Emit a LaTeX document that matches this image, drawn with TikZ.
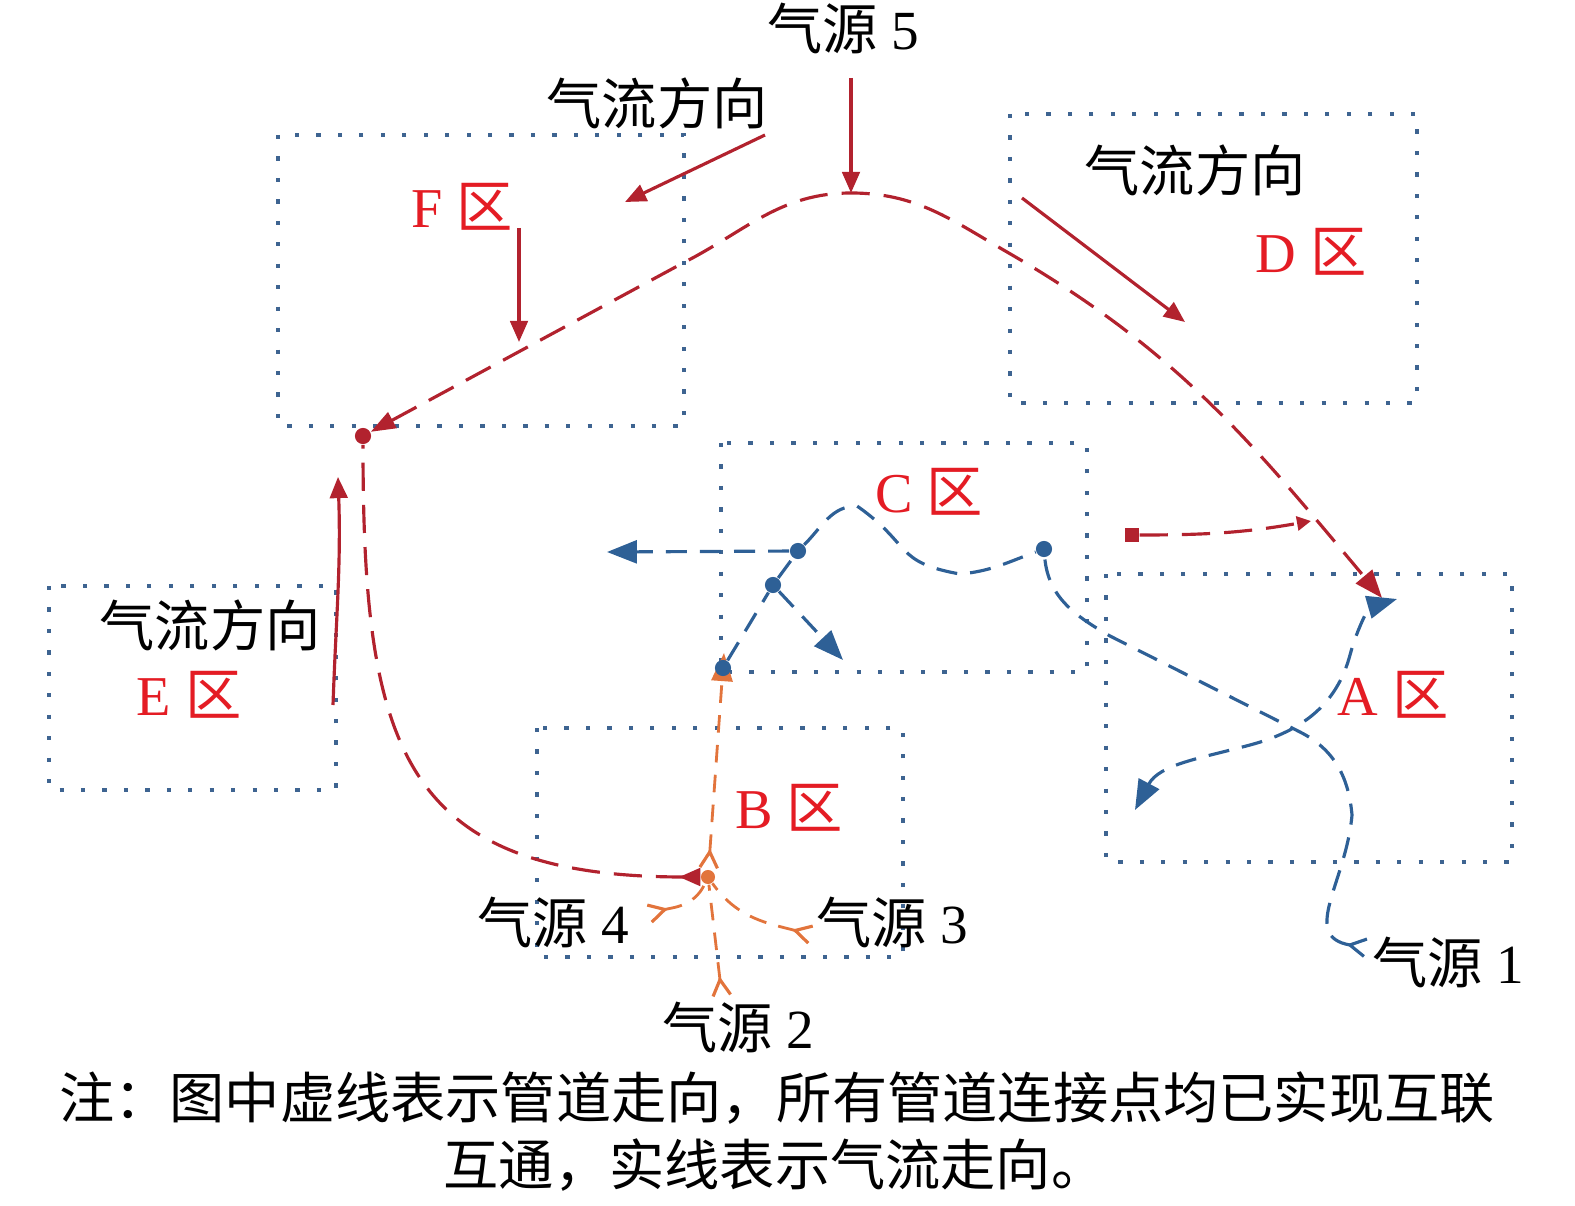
\documentclass[tikz,border=0pt]{standalone}
\usepackage{fontspec}
\setmainfont{Liberation Serif}
\newfontfamily\cjk{Noto Sans CJK SC}
\usetikzlibrary{arrows.meta}
\definecolor{zonec}{RGB}{62,100,145}
\definecolor{pipeblue}{RGB}{46,96,150}
\definecolor{pipered}{RGB}{178,34,46}
\definecolor{labelred}{RGB}{228,28,36}
\definecolor{pipeorange}{RGB}{226,116,60}

\begin{document}
\begin{tikzpicture}
			[x=0.01cm, y=0.01cm,
			 zone/.style={draw=zonec, line width=1.2pt, dash pattern=on 1.2pt off 4.9pt},
			 txt/.style={font=\fontsize{15.7}{18}\selectfont, inner sep=0pt},
			 zlabel/.style={font=\fontsize{16}{19}\selectfont, text=labelred, inner sep=0pt},
			 flow/.style={draw=pipered, line width=0.9pt, -{Triangle[length=6pt,width=5pt]}},
			 redpipe/.style={draw=pipered, line width=0.9pt, dash pattern=on 8pt off 4pt},
			 bluepipe/.style={draw=pipeblue, line width=0.9pt, dash pattern=on 6pt off 3.7pt},
			 orangepipe/.style={draw=pipeorange, line width=0.8pt, dash pattern=on 5pt off 3.5pt},
			 joint/.style={circle, inner sep=0pt, minimum size=4.6pt},
			 redtip/.tip={Triangle[length=7pt,width=5pt]},
			 bluetip/.tip={Triangle[length=8.5pt,width=6.5pt]},
			 feather/.tip={Straight Barb[reversed,length=4.5pt,width=5pt,line width=0.9pt]},]
			\useasboundingbox (0,0) rectangle (1575,1205);

			% zones
			\draw[zone] (278,1070) rectangle (684,779);
			\draw[zone] (1010,1091) rectangle (1417,802);
			\draw[zone] (721,762) rectangle (1087,533);
			\draw[zone] (1106,631) rectangle (1512,343);
			\draw[zone] (49,619) rectangle (336,415);
			\draw[zone] (537,477) rectangle (903,248);

			% texts
			\node[txt] (src5) at (843,1177) {{\cjk 气源}~5};
			\node[txt] (flowF) at (657,1102) {\cjk 气流方向};
			\node[txt] (flowD) at (1195,1035) {\cjk 气流方向};
			\node[txt] (flowE) at (210,580) {\cjk 气流方向};
			\node[txt] (src4) at (553,283) {{\cjk 气源}~4};
			\node[txt] (src3) at (892,283) {{\cjk 气源}~3};
			\node[txt] (src2) at (738,178) {{\cjk 气源}~2};
			\node[txt] (src1) at (1448,243) {{\cjk 气源}~1};
			\node[txt] (note1) at (777,107) {\cjk 注：图中虚线表示管道走向，所有管道连接点均已实现互联};
			\node[txt] (note2) at (775,40) {\cjk 互通，实线表示气流走向。};
			\node[zlabel] (zoneF) at (462,998) {F~{\cjk 区}};
			\node[zlabel] (zoneD) at (1311,953) {D~{\cjk 区}};
			\node[zlabel] (zoneC) at (929,713) {C~{\cjk 区}};
			\node[zlabel] (zoneA) at (1393,510) {A~{\cjk 区}};
			\node[zlabel] (zoneE) at (189,510) {E~{\cjk 区}};
			\node[zlabel] (zoneB) at (789,397) {B~{\cjk 区}};

			% points on the pipes
			\coordinate (p5) at (851,1012);
			\coordinate (q1) at (683,942);
			\coordinate (d1) at (1007,953);
			\coordinate (aTip) at (1382,607);
			\coordinate (sqEnd) at (1311,684);
			\coordinate (cT) at (857,699);
			\coordinate (cB) at (960,631);
			\coordinate (cL) at (607,653);
			\coordinate (cR) at (843,545);
			\coordinate (s1) at (1367,257);
			\coordinate (m1) at (1352,390);
			\coordinate (x1) at (1300,473);
			\coordinate (g1) at (1110,569);
			\coordinate (aL) at (1135,395);
			\coordinate (aX) at (1250,460);
			\coordinate (aU) at (1350,550);
			\coordinate (aR) at (1397,606);
			\coordinate (s2) at (722,208);
			\coordinate (s3) at (812,270);
			\coordinate (s4) at (648,291);
			\coordinate (oTop) at (724,552);

			% red pipes
			\node[joint, fill=pipered] (jE) at (363,769) {};
			\node[joint, fill=pipeorange, minimum size=4pt] (jB) at (708,328) {};
			\node[fill=pipered, inner sep=0pt, minimum size=4pt] (sq) at (1132,670) {};
			\draw[redpipe, {redtip}-{Triangle[length=8pt,width=6pt]}] (jE) -- (q1) to[out=27,in=180] (p5) to[out=0,in=150] (d1) to[out=-30,in=130] (aTip);
			\draw[redpipe, {Triangle[reversed,length=6pt,width=5pt]}-] (jB) to[out=180,in=-90,looseness=1.4] (jE);
			\draw[redpipe, -{Triangle[length=4pt,width=4pt]}] (sq) to[out=0,in=190] (sqEnd);

			% gas flow
			\coordinate (f5) at (851,1127);
			\coordinate (fF) at (765,1070);  \coordinate (fFe) at (625,1003);
			\coordinate (fF2) at (519,977);  \coordinate (fF2e) at (519,863);
			\coordinate (fD) at (1022,1007); \coordinate (fDe) at (1185,883);
			\coordinate (fE) at (333,500);   \coordinate (fEe) at (338,728);
			\draw[flow] (f5) -- (p5);
			\draw[flow] (fF) -- (fFe);
			\draw[flow] (fF2) -- (fF2e);
			\draw[flow] (fD) -- (fDe);
			\draw[flow] (fE) to[out=88,in=-88] (fEe);

			% orange pipes
			\draw[orangepipe, {feather}-] (s2) -- (jB);
			\draw[orangepipe, {feather}-] (s3) to[out=165,in=-55] (jB);
			\draw[orangepipe, {feather}-] (s4) to[out=15,in=-115] (jB);
			\draw[orangepipe, {feather}-{Triangle[length=8pt,width=6pt]}] (jB) -- (oTop);

			% blue pipes
			\node[joint, fill=pipeblue] (c1) at (798,654) {};
			\node[joint, fill=pipeblue] (c2) at (773,620) {};
			\node[joint, fill=pipeblue] (c3) at (723,537) {};
			\node[joint, fill=pipeblue] (c4) at (1044,656) {};
			\draw[bluepipe] (c3) -- (c2) -- (c1);
			\draw[bluepipe, -{bluetip}] (c1) -- (cL);
			\draw[bluepipe, -{bluetip}] (c2) -- (cR);
			\draw[bluepipe] (c1) to[out=45,in=180] (cT) to[out=-35,in=170,looseness=1.4] (cB) to[out=5,in=-160] (c4);
			\draw[bluepipe, {feather}-] (s1) to[out=170,in=-95,looseness=1.3] (m1) to[out=95,in=-27] (x1) -- (g1) to[out=150,in=-85] (c4);
			\draw[bluepipe, {bluetip}-{bluetip}] (aL) to[out=62,in=-165] (aX) to[out=15,in=-105] (aU) to[out=75,in=-164] (aR);
\end{tikzpicture}
\end{document}
